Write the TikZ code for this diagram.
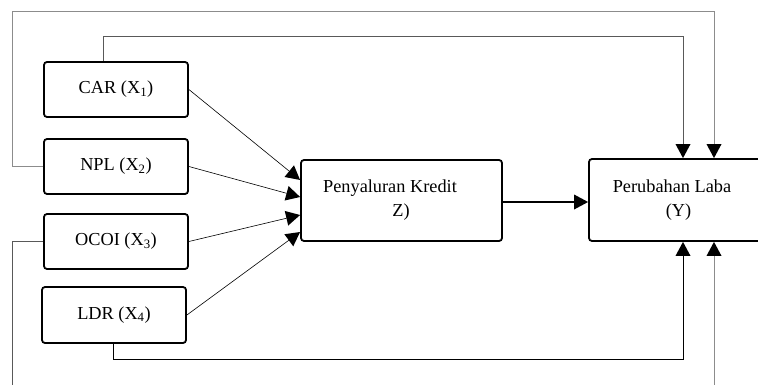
\documentclass[tikz,border=0pt]{standalone}
\usepackage{fontspec}
\setmainfont{Liberation Serif}
\usetikzlibrary{arrows.meta,calc}
\definecolor{outerline}{gray}{0.55}
\definecolor{innerline}{gray}{0.35}
\tikzset{
  varbox/.style={draw=black, line width=1.8pt, rounded corners=3pt, minimum width=144pt, minimum height=55pt, inner sep=0pt, font=\fontsize{18.3}{24}\selectfont},
  bigbox/.style={draw=black, line width=1.8pt, rounded corners=3pt, inner sep=0pt},
  lbl/.style={inner sep=0pt, align=center, font=\fontsize{18.3}{24}\selectfont},
  tip/.style={-{Triangle[length=14pt,width=15pt,color=black,line width=0pt]}},
  thin/.style={line width=0.6pt, black, tip},
  outer/.style={line width=1pt, draw=outerline, tip},
  inner/.style={line width=1pt, draw=innerline, tip},
}
\begin{document}
\begin{tikzpicture}[x=1pt,y=-1pt]
\useasboundingbox (0,0) rectangle (758,385);
\clip (0,0) rectangle (758,385);
% boxes
\node[varbox] (car) at (116,89.5) {CAR (X\textsubscript{1})};
\node[varbox] (npl) at (116,166.5) {NPL (X\textsubscript{2})};
\node[varbox] (ocoi) at (116,241.5) {OCOI (X\textsubscript{3})};
\node[varbox, minimum height=56pt] (ldr) at (114,315) {LDR (X\textsubscript{4})};
\node[bigbox, minimum width=201pt, minimum height=81pt] (z) at (401.5,200.5) {};
\node[lbl] (zl) at (401,200) {Penyaluran Kredit\hspace*{22pt}\\Z)};
\node[bigbox, minimum width=190pt, minimum height=82pt] (y) at (684,200) {};
\node[lbl] (yl) at (672,200) {Perubahan Laba\\\hspace*{13pt}(Y)};
% coordinates for routing
\coordinate (o1) at (12,12);
\coordinate (o2) at (714,12);
\coordinate (i1) at (103,37);
\coordinate (i2) at (683,37);
\coordinate (l1) at (113,359);
\coordinate (l2) at (683,359);
\coordinate (b1) at (12,385);
\coordinate (b2) at (714,385);
% arrows into Z
\draw[thin] (car.east) -- ($(z.west)+(0,-20.5)$);
\draw[thin] (npl.east) -- ($(z.west)+(0,-3.5)$);
\draw[thin] (ocoi.east) -- ($(z.west)+(0,14.5)$);
\draw[thin] (ldr.east) -- ($(z.west)+(0,31.5)$);
% Z to Y
\draw[line width=2pt, tip] (z.east |- 0,202) -- (y.west |- 0,202);
% outer loop from NPL
\draw[outer] (npl.west) -| (o1) -- (o2) -- (o2 |- y.north);
% inner loop from CAR
\draw[inner] (car.north -| i1) -- (i1) -- (i2) -- (i2 |- y.north);
% LDR to Y bottom
\draw[line width=1pt, black, tip] (ldr.south -| l1) -- (l1) -- (l2) -- (l2 |- y.south);
% OCOI left line
\draw[line width=1pt, draw=innerline] (ocoi.west) -| (b1);
% bottom to Y
\draw[outer] (b2) -- (b2 |- y.south);
\end{tikzpicture}
\end{document}
